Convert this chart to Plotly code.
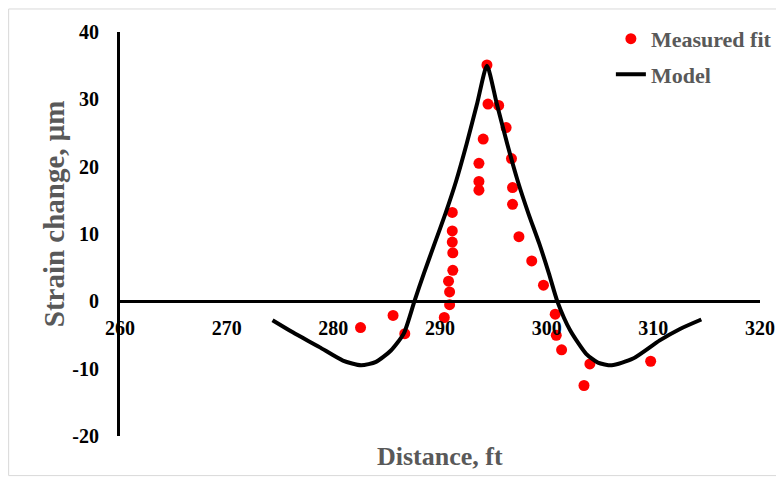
import plotly.graph_objects as go

# Measured fit points
meas_x = [282.55, 285.6, 286.7, 290.4, 290.9, 290.9, 290.8, 291.2, 291.2, 291.15,
          291.15, 291.15, 293.65, 293.65, 293.65, 294.05, 294.5, 294.4, 295.5, 296.2,
          296.7, 296.8, 296.8, 297.4, 298.6, 299.7, 300.8, 300.9, 301.4, 303.5,
          304.05, 309.75]
meas_y = [-3.9, -2.1, -4.8, -2.4, -0.5, 1.4, 3.0, 4.6, 7.2, 8.8,
          10.45, 13.2, 16.5, 17.8, 20.5, 24.1, 29.3, 35.1, 29.1, 25.8,
          21.2, 16.9, 14.4, 9.6, 6.0, 2.4, -1.9, -5.05, -7.2, -12.5,
          -9.3, -8.9]

# Model curve
model_x = [274.3, 276.2, 278.7, 280.9, 282.6, 284.0, 285.4, 286.6, 287.6, 288.5,
           289.5, 290.5, 291.5, 292.5, 293.5, 294.4, 295.3, 296.3, 297.3, 298.3,
           299.3, 300.2, 301.0, 302.2, 303.7, 304.8, 306.1, 308.1, 310.6, 312.5,
           314.5]
model_y = [-2.8, -4.6, -6.8, -8.8, -9.5, -9.0, -7.3, -4.8, 0.0, 4.2,
           8.6, 13.0, 17.8, 23.4, 29.5, 35.0, 29.5, 23.4, 17.8, 13.0,
           8.6, 4.2, 0.0, -4.3, -7.8, -9.1, -9.5, -8.5, -5.8, -4.1,
           -2.7]

x_ticks = [260, 270, 280, 290, 300, 310, 320]
y_ticks = [-20, -10, 0, 10, 20, 30, 40]

FONT = "Liberation Serif"
GRAY = "#595959"

fig = go.Figure()
fig.add_trace(go.Scatter(
    x=meas_x, y=meas_y, mode="markers", name="Measured fit",
    marker=dict(color="#FF0000", size=11), legendgroup="a"))
fig.add_trace(go.Scatter(
    x=model_x, y=model_y, mode="lines", name="Model",
    line=dict(color="black", width=4, shape="spline", smoothing=0.6),
    legendgroup="b"))

ymin, ymax = -20, 40
fig.update_layout(
    width=776, height=472,
    margin=dict(l=112, r=24, t=24, b=44, autoexpand=False),
    paper_bgcolor="white", plot_bgcolor="white",
    font=dict(family=FONT, size=20, color="black", weight="bold"),
    showlegend=True,
    legend=dict(x=0.767, y=1.035, xanchor="left", yanchor="top",
                font=dict(family=FONT, size=22, color=GRAY, weight="bold"),
                bgcolor="rgba(0,0,0,0)", tracegroupgap=4, traceorder="grouped"),
    xaxis=dict(range=[260, 320], tickvals=x_ticks, ticktext=[str(v) for v in x_ticks],
               showgrid=False, zeroline=False, showline=True, linecolor="black",
               linewidth=3, anchor="free", position=(0 - ymin) / (ymax - ymin),
               ticks="outside", ticklen=8, tickcolor="rgba(0,0,0,0)", automargin=False,
               tickfont=dict(family=FONT, size=20, color="black", weight="bold")),
    yaxis=dict(range=[ymin, ymax], tickvals=y_ticks, ticktext=[str(v) for v in y_ticks],
               showgrid=False, zeroline=False, showline=True, linecolor="black",
               linewidth=3, ticks="outside", ticklen=14, tickcolor="rgba(0,0,0,0)",
               domain=[0, 1], automargin=False,
               tickfont=dict(family=FONT, size=20, color="black", weight="bold")),
    annotations=[
        dict(text="Distance, ft", xref="paper", yref="paper", x=0.5, y=-0.05,
             xanchor="center", yanchor="middle", showarrow=False,
             font=dict(family=FONT, size=26, color=GRAY, weight="bold")),
        dict(text="Strain change, μm", xref="paper", yref="paper", x=-0.104, y=0.55,
             xanchor="center", yanchor="middle", textangle=-90, showarrow=False,
             font=dict(family=FONT, size=29, color=GRAY, weight="bold")),
    ],
    shapes=[dict(type="rect", xref="paper", yref="paper",
                 x0=-0.174, x1=1.026, y0=-0.098, y1=1.057,
                 line=dict(color="#D9D9D9", width=1), fillcolor="rgba(0,0,0,0)",
                 layer="below")],
)

fig.write_html("out.html")
